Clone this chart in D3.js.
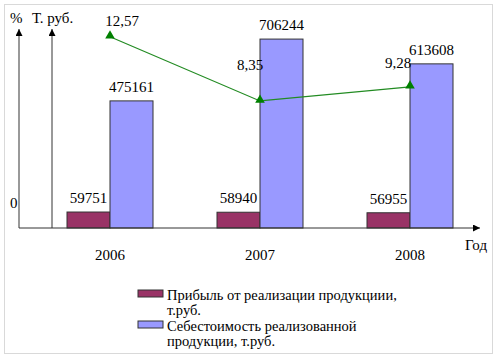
<!DOCTYPE html>
<html>
<head>
<meta charset="utf-8">
<script src="https://cdn.jsdelivr.net/npm/d3@7"></script>
<style>
  body { margin: 0; background: #fff; }
</style>
</head>
<body>
<script>
const years = ['2006', '2007', '2008'];
const profit = [59751, 58940, 56955];
const cost = [475161, 706244, 613608];
const percent = [12.57, 8.35, 9.28];
const percentLabels = ['12,57', '8,35', '9,28'];
const legendLines = [
  ['Прибыль от реализации продукциии,', 'т.руб.'],
  ['Себестоимость реализованной', 'продукции, т.руб.']
];

const w = 499;
const h = 362;
const base = 228;
const barW = 43;
const font = 'Liberation Serif';

const svg = d3.select('body')
  .append('svg')
  .attr('width', w)
  .attr('height', h);

function label(sel, size) {
  return sel.attr('font-family', font).style('font-size', size + 'px').attr('fill', '#000');
}

// outer frame
svg.append('rect')
  .attr('x', 4.5).attr('y', 4.5)
  .attr('width', 488).attr('height', 349)
  .attr('fill', 'none')
  .attr('stroke', '#d9d9d9');

const x = d3.scaleBand().domain(years).range([35, 485]);
const yBar = d3.scaleLinear().domain([0, 800000]).range([base, 14]);
const yPct = d3.scaleLinear().domain([0, 14]).range([base, 15]);
const cx = d => x(d) + x.bandwidth() / 2;

// arrows
svg.append('defs').append('marker')
  .attr('id', 'arr')
  .attr('viewBox', '0 0 10 10')
  .attr('refX', 10).attr('refY', 5)
  .attr('markerWidth', 7).attr('markerHeight', 7)
  .attr('markerUnits', 'userSpaceOnUse')
  .attr('orient', 'auto')
  .append('path')
  .attr('d', 'M0,0L10,5L0,10Z')
  .attr('fill', '#000');

// axes
svg.append('line')
  .attr('x1', 19).attr('x2', 19)
  .attr('y1', base).attr('y2', 29)
  .attr('stroke', '#777').attr('stroke-width', 1.5)
  .attr('marker-end', 'url(#arr)');
svg.append('line')
  .attr('x1', 52).attr('x2', 52)
  .attr('y1', base).attr('y2', 29)
  .attr('stroke', '#333').attr('stroke-width', 1)
  .attr('marker-end', 'url(#arr)');

// bars
svg.selectAll('rect.profit')
  .data(years)
  .enter()
  .append('rect')
  .attr('class', 'profit')
  .attr('x', d => cx(d) - barW)
  .attr('y', (d, i) => yBar(profit[i]))
  .attr('width', barW)
  .attr('height', (d, i) => base - yBar(profit[i]))
  .attr('fill', '#993366')
  .attr('stroke', '#333');

svg.selectAll('rect.cost')
  .data(years)
  .enter()
  .append('rect')
  .attr('class', 'cost')
  .attr('x', d => cx(d))
  .attr('y', (d, i) => yBar(cost[i]))
  .attr('width', barW)
  .attr('height', (d, i) => base - yBar(cost[i]))
  .attr('fill', '#9999ff')
  .attr('stroke', '#333');

svg.append('line')
  .attr('x1', 19).attr('x2', 480)
  .attr('y1', base).attr('y2', base)
  .attr('stroke', '#333')
  .attr('marker-end', 'url(#arr)');

// bar labels
svg.selectAll('text.pl')
  .data(years)
  .enter()
  .append('text')
  .attr('x', d => cx(d) - barW / 2)
  .attr('y', (d, i) => yBar(profit[i]) - 9)
  .attr('text-anchor', 'middle')
  .call(label, 15)
  .text((d, i) => profit[i]);

svg.selectAll('text.cl')
  .data(years)
  .enter()
  .append('text')
  .attr('x', d => cx(d) + barW / 2)
  .attr('y', (d, i) => yBar(cost[i]) - 9)
  .attr('text-anchor', 'middle')
  .call(label, 15)
  .text((d, i) => cost[i]);

// percent line
const line = d3.line()
  .x(d => cx(d))
  .y((d, i) => yPct(percent[i]));

svg.append('path')
  .attr('d', line(years))
  .attr('fill', 'none')
  .attr('stroke', '#228b22')
  .attr('stroke-width', 1.2);

svg.selectAll('path.tri')
  .data(years)
  .enter()
  .append('path')
  .attr('d', d3.symbol(d3.symbolTriangle, 40))
  .attr('transform', (d, i) => `translate(${cx(d)},${yPct(percent[i]) - 1})`)
  .attr('fill', '#008000');

const pctDx = [12, -10, -12];
const pctDy = [-11, -31, -19];
svg.selectAll('text.pct')
  .data(years)
  .enter()
  .append('text')
  .attr('x', (d, i) => cx(d) + pctDx[i])
  .attr('y', (d, i) => yPct(percent[i]) + pctDy[i])
  .attr('text-anchor', 'middle')
  .call(label, 15)
  .text((d, i) => percentLabels[i]);

// year labels
svg.selectAll('text.year')
  .data(years)
  .enter()
  .append('text')
  .attr('x', d => cx(d))
  .attr('y', 260)
  .attr('text-anchor', 'middle')
  .call(label, 15)
  .text(d => d);

svg.append('text').attr('x', 465).attr('y', 250).call(label, 15).text('Год');
svg.append('text').attr('x', 10).attr('y', 208).call(label, 15).text('0');
svg.append('text').attr('x', 10).attr('y', 23).call(label, 15).text('%');
svg.append('text').attr('x', 32).attr('y', 23).call(label, 15).text('Т. руб.');

// legend
const legendColors = ['#993366', '#9999ff'];
const lg = svg.selectAll('g.leg')
  .data(legendLines)
  .enter()
  .append('g')
  .attr('transform', (d, i) => `translate(138,${290 + i * 31})`);

lg.append('rect')
  .attr('width', 25).attr('height', 7)
  .attr('fill', (d, i) => legendColors[i])
  .attr('stroke', '#333');

lg.append('text')
  .attr('x', 29)
  .attr('y', 10)
  .call(label, 14.5)
  .selectAll('tspan')
  .data(d => d)
  .enter()
  .append('tspan')
  .attr('x', 29)
  .attr('dy', (d, i) => i === 0 ? 0 : 15)
  .text(d => d);
</script>
</body>
</html>
